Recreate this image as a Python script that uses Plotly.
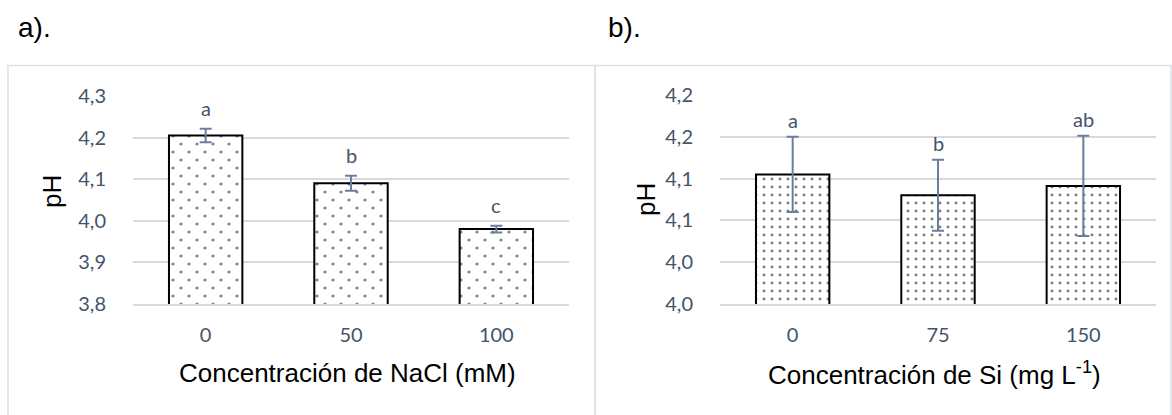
import plotly.graph_objects as go

# ---------------- data ----------------
cats_a = ["0", "50", "100"]
ph_a = [4.205, 4.090, 3.980]
err_a = [0.016, 0.018, 0.008]
letters_a = ["a", "b", "c"]

cats_b = ["0", "75", "150"]
ph_b = [4.124, 4.104, 4.113]
err_b = [0.036, 0.034, 0.048]
letters_b = ["a", "b", "ab"]

ytick_vals_a = [3.8, 3.9, 4.0, 4.1, 4.2, 4.3]
ytick_text_a = ["3,8", "3,9", "4,0", "4,1", "4,2", "4,3"]
ytick_vals_b = [4.00, 4.04, 4.08, 4.12, 4.16, 4.20]
ytick_text_b = ["4,0", "4,0", "4,1", "4,1", "4,2", "4,2"]

xtitle_a = "Concentración de NaCl (mM)"
xtitle_b = "Concentración de Si (mg L<sup>-1</sup>)"
ytitle = "pH"
panel_labels = ["a).", "b)."]

# ---------------- layout helpers ----------------
W, H = 1172, 415
def px(x):
    return x / W
def py(y):
    return 1 - y / H

TICK_COLOR = "#44546A"
ERR_COLOR = "#6A7FA0"
GRID = "#D9D9D9"
BOX = "#DCE1E7"
TICK_FONT = dict(family="Lato", size=20, color=TICK_COLOR)
TITLE_FONT = dict(family="Liberation Sans, Arial", size=26, color="black")

# panel a plot area (px) and range
A_X0, A_X1, A_Y0, A_Y1 = 133, 569, 96, 304
A_RANGE = [3.8, 4.3]
SHIFT = 8  # px offset of the overlay pattern layer (staggered dots)

fig = go.Figure()

# panel a: outlined bars with a sparse dot layer
fig.add_trace(go.Bar(
    x=cats_a, y=ph_a, xaxis="x", yaxis="y", width=0.505,
    marker=dict(color="white", line=dict(color="black", width=2),
                pattern=dict(shape=".", fgcolor="black", bgcolor="white",
                             size=16, solidity=0.028)),
    showlegend=False, hoverinfo="skip",
))
# overlay layer on a shifted twin subplot -> staggered dot lattice + error bars
fig.add_trace(go.Bar(
    x=cats_a, y=[v - A_RANGE[0] for v in ph_a], base=A_RANGE[0],
    xaxis="x3", yaxis="y3", width=0.505,
    marker=dict(color="rgba(0,0,0,0)", line=dict(width=0),
                pattern=dict(shape=".", fgcolor="black", bgcolor="rgba(0,0,0,0)",
                             size=16, solidity=0.028)),
    error_y=dict(type="data", array=err_a, visible=True,
                 color=ERR_COLOR, thickness=2, width=6),
    showlegend=False, hoverinfo="skip",
))

# panel b
fig.add_trace(go.Bar(
    x=cats_b, y=ph_b, xaxis="x2", yaxis="y2", width=0.505,
    marker=dict(color="white", line=dict(color="black", width=2),
                pattern=dict(shape=".", fgcolor="black", bgcolor="white",
                             size=8, solidity=0.105)),
    error_y=dict(type="data", array=err_b, visible=True,
                 color=ERR_COLOR, thickness=2, width=6),
    showlegend=False, hoverinfo="skip",
))

annotations = []
for i, (v, e, t) in enumerate(zip(ph_a, err_a, letters_a)):
    annotations.append(dict(x=i, y=v + e, xref="x", yref="y", text=t,
                            showarrow=False, yanchor="bottom", yshift=7,
                            font=TICK_FONT))
for i, (v, e, t) in enumerate(zip(ph_b, err_b, letters_b)):
    annotations.append(dict(x=i, y=v + e, xref="x2", yref="y2", text=t,
                            showarrow=False, yanchor="bottom", yshift=3,
                            font=TICK_FONT))

annotations += [
    dict(x=px(52), y=py(192), xref="paper", yref="paper", text=ytitle,
         textangle=-90, showarrow=False, font=TITLE_FONT,
         xanchor="center", yanchor="middle"),
    dict(x=px(646), y=py(200), xref="paper", yref="paper", text=ytitle,
         textangle=-90, showarrow=False, font=TITLE_FONT,
         xanchor="center", yanchor="middle"),
    dict(x=px(347), y=py(373), xref="paper", yref="paper", text=xtitle_a,
         showarrow=False, font=TITLE_FONT, xanchor="center", yanchor="middle"),
    dict(x=px(934), y=py(373), xref="paper", yref="paper", text=xtitle_b,
         showarrow=False, font=TITLE_FONT, xanchor="center", yanchor="middle"),
    dict(x=px(16), y=py(27), xref="paper", yref="paper", text=panel_labels[0],
         showarrow=False, font=dict(family="Liberation Sans, Arial", size=28, color="black"),
         xanchor="left", yanchor="middle"),
    dict(x=px(606), y=py(27), xref="paper", yref="paper", text=panel_labels[1],
         showarrow=False, font=dict(family="Liberation Sans, Arial", size=28, color="black"),
         xanchor="left", yanchor="middle"),
]

shapes = [
    dict(type="rect", xref="paper", yref="paper",
         x0=px(8), x1=px(595), y0=py(440), y1=py(65.5),
         line=dict(color=BOX, width=1.6), fillcolor="rgba(0,0,0,0)", layer="below"),
    dict(type="rect", xref="paper", yref="paper",
         x0=px(595), x1=px(1171), y0=py(440), y1=py(65.5),
         line=dict(color=BOX, width=1.6), fillcolor="rgba(0,0,0,0)", layer="below"),
]

xcommon = dict(type="category", range=[-0.5, 2.5], showgrid=False,
               showline=True, linecolor=GRID, linewidth=1.5,
               ticks="", tickfont=TICK_FONT, ticklabelstandoff=12,
               fixedrange=True)
ycommon = dict(showgrid=True, gridcolor=GRID, gridwidth=1.5, zeroline=False,
               showline=False, ticks="", tickfont=TICK_FONT,
               ticklabelstandoff=26, fixedrange=True)

# shifted twin axes for panel a overlay (same data->pixel mapping)
cat_px = (A_X1 - A_X0) / 3.0
val_px = (A_Y1 - A_Y0) / (A_RANGE[1] - A_RANGE[0])
dx = SHIFT / cat_px
dy = SHIFT / val_px

fig.update_layout(
    width=W, height=H,
    margin=dict(l=0, r=0, t=0, b=0, autoexpand=False),
    paper_bgcolor="white", plot_bgcolor="rgba(0,0,0,0)",
    xaxis=dict(domain=[px(A_X0), px(A_X1)], anchor="y", **xcommon),
    yaxis=dict(domain=[py(A_Y1), py(A_Y0)], anchor="x", range=A_RANGE,
               tickvals=ytick_vals_a, ticktext=ytick_text_a, **ycommon),
    xaxis2=dict(domain=[px(720), px(1156)], anchor="y2", **xcommon),
    yaxis2=dict(domain=[py(304), py(95)], anchor="x2", range=[4.0, 4.2],
                tickvals=ytick_vals_b, ticktext=ytick_text_b, **ycommon),
    xaxis3=dict(domain=[px(A_X0 + SHIFT), px(A_X1 + SHIFT)], anchor="y3",
                type="category", range=[-0.5 + dx, 2.5 + dx], visible=False,
                fixedrange=True),
    yaxis3=dict(domain=[py(A_Y1 + SHIFT), py(A_Y0 + SHIFT)], anchor="x3",
                range=[A_RANGE[0] - dy, A_RANGE[1] - dy], visible=False,
                fixedrange=True),
    annotations=annotations,
    shapes=shapes,
)

fig.write_html("out.html", config={"displayModeBar": False},
               post_script="document.body.style.margin='0';")
